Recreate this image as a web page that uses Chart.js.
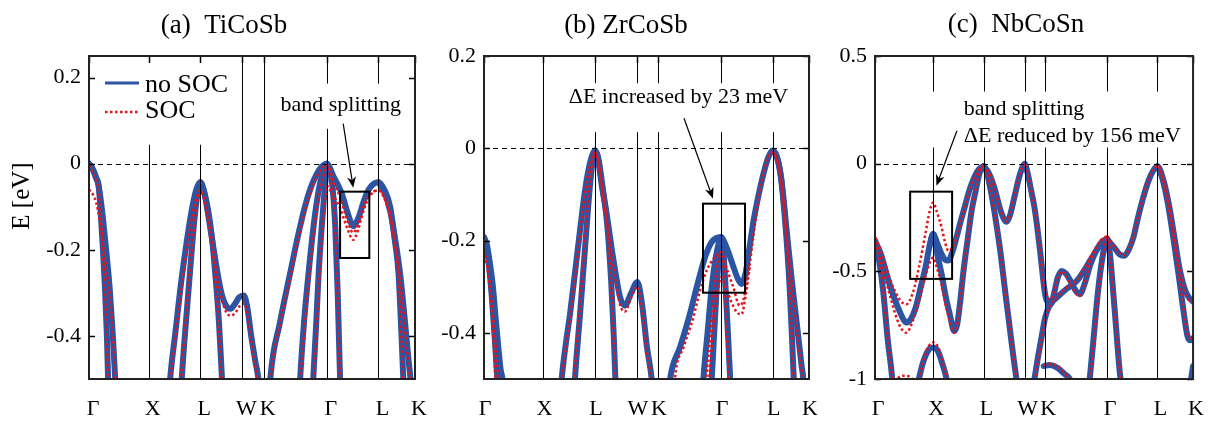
<!DOCTYPE html>
<html>
<head>
<meta charset="utf-8">
<title>Band structures with and without SOC</title>
<script src="https://cdn.jsdelivr.net/npm/chart.js@4.4.1/dist/chart.umd.min.js"></script>
<style>
  body { margin: 0; background: #fff; }
  .panel { position: absolute; top: 0; }
</style>
</head>
<body>
<canvas id="chartA" class="panel" width="440" height="421" style="left:0px"></canvas>
<canvas id="chartB" class="panel" width="440" height="421" style="left:400px"></canvas>
<canvas id="chartC" class="panel" width="418" height="421" style="left:800px"></canvas>
<script>
// high-symmetry path (k distance) and its labels
const kPoints = [0, 1, 1.866, 2.573, 2.927, 3.988, 4.854, 5.466];
const kLabels = ['Γ', 'X', 'L', 'W', 'K', 'Γ', 'L', 'K'];

// y tick values for each panel
const ticksA = [0.2, 0, -0.2, -0.4];
const ticksB = [0.2, 0, -0.2, -0.4];
const ticksC = [0.5, 0, -0.5, -1];

// (a) TiCoSb, bands as [k, E]
const tiNoSOC = [
    [[0, 0], [0.06, -0.012], [0.12, -0.033], [0.16, -0.05], [0.19, -0.1], [0.23, -0.19], [0.27, -0.295], [0.30, -0.4], [0.32, -0.5], [0.335, -0.57]],
    [[0, 0], [0.06, -0.012], [0.12, -0.033], [0.16, -0.05], [0.22, -0.11], [0.28, -0.19], [0.35, -0.295], [0.40, -0.4], [0.44, -0.5], [0.46, -0.56]],
    [[1.33, -0.56], [1.36, -0.5], [1.45, -0.39], [1.55, -0.27], [1.64, -0.18], [1.72, -0.11], [1.80, -0.06], [1.866, -0.043], [1.93, -0.065], [2.0, -0.11], [2.06, -0.17], [2.12, -0.26], [2.18, -0.37], [2.23, -0.5], [2.25, -0.56]],
    [[1.54, -0.54], [1.555, -0.5], [1.63, -0.36], [1.70, -0.24], [1.76, -0.14], [1.82, -0.07], [1.866, -0.043], [1.93, -0.065], [2.0, -0.12], [2.08, -0.19], [2.15, -0.25], [2.22, -0.30], [2.30, -0.33], [2.37, -0.337], [2.45, -0.325], [2.52, -0.31], [2.595, -0.306], [2.65, -0.33], [2.72, -0.4], [2.79, -0.46], [2.84, -0.5], [2.87, -0.55]],
    [[3.02, -0.55], [3.04, -0.5], [3.2, -0.37], [3.37, -0.256], [3.5, -0.17], [3.62, -0.10], [3.72, -0.055], [3.82, -0.024], [3.9, -0.007], [3.988, 0], [4.1, -0.03], [4.24, -0.07], [4.35, -0.12], [4.43, -0.145], [4.52, -0.125], [4.6, -0.09], [4.69, -0.06], [4.78, -0.046], [4.854, -0.043], [4.95, -0.06], [5.05, -0.10], [5.12, -0.17], [5.19, -0.256], [5.24, -0.4], [5.27, -0.5], [5.29, -0.56]],
    [[4.854, -0.043], [4.95, -0.065], [5.05, -0.11], [5.15, -0.19], [5.22, -0.26], [5.3, -0.37], [5.36, -0.46], [5.39, -0.5], [5.41, -0.55]],
    [[3.52, -0.56], [3.54, -0.5], [3.61, -0.36], [3.68, -0.256], [3.77, -0.14], [3.85, -0.063], [3.92, -0.02], [3.988, 0], [4.03, -0.012], [4.08, -0.05], [4.13, -0.15], [4.17, -0.3], [4.21, -0.5], [4.23, -0.56]],
    [[3.74, -0.56], [3.76, -0.5], [3.81, -0.37], [3.85, -0.256], [3.90, -0.15], [3.94, -0.08], [3.97, -0.03], [3.988, 0]]
];
const tiSOC = [
    [[0, -0.005], [0.06, -0.018], [0.12, -0.04], [0.16, -0.058], [0.19, -0.105], [0.23, -0.2], [0.27, -0.305], [0.30, -0.41], [0.32, -0.51], [0.335, -0.58]],
    [[0, -0.06], [0.06, -0.07], [0.12, -0.09], [0.18, -0.13], [0.24, -0.19], [0.30, -0.255], [0.36, -0.32], [0.41, -0.42], [0.45, -0.52], [0.47, -0.57]],
    [[1.34, -0.56], [1.37, -0.5], [1.46, -0.39], [1.56, -0.28], [1.65, -0.19], [1.73, -0.12], [1.81, -0.075], [1.866, -0.062], [1.93, -0.08], [2.0, -0.125], [2.06, -0.18], [2.12, -0.27], [2.18, -0.38], [2.22, -0.5], [2.24, -0.56]],
    [[1.53, -0.54], [1.545, -0.5], [1.62, -0.37], [1.69, -0.25], [1.76, -0.15], [1.82, -0.085], [1.866, -0.062], [1.93, -0.082], [2.0, -0.135], [2.08, -0.2], [2.15, -0.26], [2.22, -0.31], [2.30, -0.345], [2.38, -0.353], [2.46, -0.345], [2.53, -0.33], [2.6, -0.325], [2.66, -0.35], [2.73, -0.42], [2.8, -0.48], [2.84, -0.52], [2.86, -0.56]],
    [[3.03, -0.55], [3.05, -0.5], [3.21, -0.37], [3.38, -0.26], [3.51, -0.175], [3.63, -0.105], [3.73, -0.06], [3.83, -0.028], [3.91, -0.01], [3.988, -0.003], [4.1, -0.04], [4.24, -0.09], [4.35, -0.14], [4.43, -0.16], [4.52, -0.135], [4.6, -0.1], [4.69, -0.075], [4.78, -0.064], [4.854, -0.062], [4.95, -0.075], [5.05, -0.115], [5.12, -0.18], [5.19, -0.265], [5.24, -0.41], [5.27, -0.51], [5.29, -0.57]],
    [[3.988, -0.05], [4.08, -0.07], [4.2, -0.1], [4.33, -0.15], [4.43, -0.177], [4.52, -0.15], [4.6, -0.11], [4.69, -0.08], [4.78, -0.065], [4.854, -0.062], [4.95, -0.08], [5.05, -0.125], [5.15, -0.2], [5.22, -0.27], [5.3, -0.38], [5.36, -0.47], [5.39, -0.51], [5.41, -0.56]],
    [[3.53, -0.56], [3.55, -0.5], [3.62, -0.37], [3.69, -0.265], [3.78, -0.15], [3.86, -0.07], [3.93, -0.03], [3.988, -0.003], [4.03, -0.02], [4.08, -0.06], [4.13, -0.16], [4.17, -0.31], [4.21, -0.51], [4.23, -0.57]],
    [[3.75, -0.56], [3.77, -0.5], [3.82, -0.38], [3.86, -0.27], [3.91, -0.17], [3.95, -0.1], [3.988, -0.05]]
];

// (b) ZrCoSb
const zrNoSOC = [
    [[0, -0.193], [0.05, -0.21], [0.10, -0.25], [0.15, -0.3], [0.19, -0.36], [0.24, -0.43], [0.28, -0.48], [0.31, -0.5], [0.33, -0.54]],
    [[0, -0.193], [0.04, -0.21], [0.08, -0.25], [0.13, -0.32], [0.18, -0.41], [0.22, -0.49], [0.24, -0.54]],
    [[1.28, -0.55], [1.307, -0.5], [1.38, -0.42], [1.446, -0.36], [1.53, -0.27], [1.615, -0.178], [1.69, -0.1], [1.76, -0.045], [1.82, -0.015], [1.866, -0.005], [1.92, -0.02], [1.98, -0.07], [2.06, -0.15], [2.10, -0.21], [2.14, -0.29], [2.18, -0.4], [2.21, -0.5], [2.23, -0.56]],
    [[1.51, -0.55], [1.53, -0.5], [1.615, -0.36], [1.70, -0.215], [1.78, -0.084], [1.83, -0.025], [1.866, -0.005], [1.92, -0.025], [1.98, -0.08], [2.06, -0.14], [2.17, -0.236], [2.29, -0.323], [2.37, -0.341], [2.47, -0.315], [2.58, -0.29], [2.66, -0.34], [2.74, -0.43], [2.82, -0.5], [2.85, -0.55]],
    [[3.10, -0.54], [3.13, -0.5], [3.30, -0.43], [3.45, -0.365], [3.60, -0.29], [3.72, -0.235], [3.82, -0.205], [3.9, -0.195], [3.988, -0.193], [4.08, -0.215], [4.19, -0.255], [4.27, -0.283], [4.33, -0.294], [4.40, -0.27], [4.46, -0.22], [4.53, -0.16], [4.62, -0.1], [4.70, -0.055], [4.78, -0.02], [4.855, -0.005], [4.93, -0.02], [5.0, -0.07], [5.09, -0.2], [5.14, -0.3], [5.18, -0.41], [5.21, -0.5], [5.23, -0.56]],
    [[4.855, -0.005], [4.93, -0.02], [5.0, -0.065], [5.09, -0.178], [5.18, -0.29], [5.27, -0.39], [5.34, -0.47], [5.37, -0.5], [5.39, -0.55]],
    [[3.67, -0.55], [3.69, -0.5], [3.76, -0.4], [3.83, -0.3], [3.9, -0.235], [3.95, -0.205], [3.988, -0.193], [4.03, -0.23], [4.07, -0.32], [4.11, -0.42], [4.14, -0.5], [4.16, -0.55]],
    [[3.81, -0.55], [3.83, -0.5], [3.88, -0.38], [3.93, -0.27], [3.988, -0.193]]
];
const zrSOC = [
    [[0, -0.222], [0.05, -0.25], [0.10, -0.3], [0.14, -0.37], [0.17, -0.44], [0.19, -0.5], [0.2, -0.53]],
    [[0, -0.222], [0.06, -0.26], [0.12, -0.32], [0.18, -0.4], [0.23, -0.48], [0.25, -0.52]],
    [[1.29, -0.55], [1.315, -0.5], [1.39, -0.42], [1.455, -0.36], [1.54, -0.27], [1.62, -0.18], [1.695, -0.1], [1.765, -0.047], [1.825, -0.017], [1.866, -0.008], [1.92, -0.023], [1.98, -0.075], [2.06, -0.155], [2.10, -0.215], [2.14, -0.3], [2.18, -0.41], [2.205, -0.5], [2.22, -0.56]],
    [[1.50, -0.55], [1.52, -0.5], [1.605, -0.36], [1.69, -0.215], [1.775, -0.085], [1.83, -0.028], [1.866, -0.008], [1.92, -0.03], [1.98, -0.085], [2.06, -0.15], [2.17, -0.25], [2.29, -0.34], [2.37, -0.354], [2.47, -0.325], [2.58, -0.30], [2.66, -0.35], [2.74, -0.44], [2.81, -0.5], [2.84, -0.55]],
    [[3.19, -0.54], [3.21, -0.5], [3.36, -0.43], [3.52, -0.367], [3.63, -0.31], [3.745, -0.265], [3.88, -0.236], [3.988, -0.225], [4.08, -0.26], [4.19, -0.30], [4.30, -0.341], [4.36, -0.33], [4.42, -0.29], [4.47, -0.25], [4.55, -0.17], [4.63, -0.1], [4.71, -0.05], [4.78, -0.02], [4.855, -0.008], [4.93, -0.025], [5.0, -0.075], [5.09, -0.205], [5.14, -0.31], [5.18, -0.42], [5.205, -0.5], [5.22, -0.56]],
    [[4.855, -0.008], [4.93, -0.025], [5.0, -0.07], [5.09, -0.185], [5.18, -0.3], [5.27, -0.4], [5.34, -0.48], [5.36, -0.5], [5.38, -0.55]],
    [[3.72, -0.55], [3.74, -0.5], [3.8, -0.41], [3.87, -0.31], [3.93, -0.25], [3.988, -0.225], [4.03, -0.26], [4.07, -0.35], [4.10, -0.44], [4.12, -0.5], [4.14, -0.55]],
    [[3.77, -0.55], [3.79, -0.5], [3.85, -0.4], [3.92, -0.32], [3.988, -0.28], [4.06, -0.3], [4.15, -0.33], [4.25, -0.355], [4.33, -0.36], [4.4, -0.32], [4.47, -0.255]]
];

// (c) NbCoSn
const nbNoSOC = [
    [[0, -0.358], [0.1, -0.42], [0.25, -0.56], [0.42, -0.684], [0.54, -0.738], [0.62, -0.72], [0.70, -0.668], [0.78, -0.58], [0.867, -0.482], [0.94, -0.38], [1.0, -0.327], [1.07, -0.37], [1.145, -0.42], [1.2, -0.445], [1.26, -0.45], [1.33, -0.41], [1.40, -0.343], [1.47, -0.27], [1.54, -0.203], [1.62, -0.125], [1.705, -0.064], [1.79, -0.025], [1.866, -0.012]],
    [[1.866, -0.012], [1.95, -0.04], [2.05, -0.11], [2.15, -0.21], [2.22, -0.26], [2.26, -0.27], [2.32, -0.24], [2.40, -0.15], [2.48, -0.06], [2.54, -0.012], [2.573, 0], [2.62, -0.04], [2.68, -0.12], [2.74, -0.203], [2.80, -0.32], [2.85, -0.436], [2.90, -0.56], [2.93, -0.615], [2.97, -0.645], [3.02, -0.653], [3.08, -0.6], [3.14, -0.53], [3.21, -0.498], [3.28, -0.51], [3.37, -0.55], [3.45, -0.59], [3.52, -0.606], [3.60, -0.56], [3.70, -0.47], [3.80, -0.405], [3.91, -0.36], [3.988, -0.35]],
    [[3.988, -0.35], [4.05, -0.37], [4.11, -0.389], [4.2, -0.42], [4.28, -0.428], [4.36, -0.40], [4.44, -0.343], [4.52, -0.25], [4.61, -0.157], [4.70, -0.08], [4.78, -0.033], [4.854, -0.012], [4.96, -0.08], [5.06, -0.203], [5.15, -0.35], [5.23, -0.482], [5.32, -0.58], [5.39, -0.62], [5.466, -0.64]],
    [[0.94, -0.38], [1.0, -0.327], [1.07, -0.42], [1.145, -0.513], [1.21, -0.61], [1.286, -0.70], [1.36, -0.777], [1.41, -0.75], [1.46, -0.65], [1.52, -0.5], [1.59, -0.358], [1.66, -0.22], [1.73, -0.126], [1.80, -0.04], [1.866, -0.012], [1.93, -0.05], [2.0, -0.14], [2.08, -0.27], [2.16, -0.42], [2.24, -0.6], [2.31, -0.75], [2.38, -0.9], [2.43, -1.0], [2.45, -1.05]],
    [[0, -0.358], [0.07, -0.45], [0.14, -0.59], [0.22, -0.82], [0.297, -1.0], [0.31, -1.05]],
    [[0.72, -1.05], [0.755, -1.0], [0.83, -0.92], [0.92, -0.865], [1.0, -0.854], [1.08, -0.87], [1.17, -0.94], [1.23, -1.0], [1.26, -1.05]],
    [[2.72, -1.03], [2.74, -1.0], [2.80, -0.9], [2.86, -0.81], [2.92, -0.72], [2.98, -0.67], [3.05, -0.64], [3.13, -0.62], [3.30, -0.58], [3.47, -0.544], [3.63, -0.48], [3.80, -0.405], [3.90, -0.37], [3.988, -0.35]],
    [[3.67, -1.05], [3.69, -1.0], [3.76, -0.8], [3.83, -0.6], [3.9, -0.45], [3.95, -0.38], [3.988, -0.35], [4.03, -0.4], [4.08, -0.55], [4.14, -0.75], [4.2, -0.95], [4.22, -1.0], [4.24, -1.05]],
    [[2.9, -0.94], [3.0, -0.935], [3.13, -0.947], [3.25, -0.975], [3.35, -1.0], [3.4, -1.03]],
    [[4.854, -0.012], [4.93, -0.06], [5.03, -0.18], [5.13, -0.35], [5.22, -0.52], [5.30, -0.68], [5.37, -0.80], [5.42, -0.82], [5.466, -0.81]],
    [[5.41, -1.04], [5.466, -0.94]]
];
const nbSOC = [
    [[0, -0.343], [0.1, -0.4], [0.25, -0.53], [0.42, -0.63], [0.54, -0.653], [0.65, -0.6], [0.755, -0.482], [0.87, -0.32], [0.94, -0.22], [1.0, -0.18], [1.07, -0.23], [1.145, -0.296], [1.2, -0.36], [1.26, -0.405], [1.33, -0.39], [1.40, -0.345], [1.47, -0.275], [1.54, -0.205], [1.62, -0.125], [1.705, -0.062], [1.79, -0.022], [1.866, -0.01]],
    [[0, -0.343], [0.1, -0.45], [0.25, -0.606], [0.42, -0.75], [0.54, -0.785], [0.65, -0.73], [0.755, -0.637], [0.87, -0.52], [0.94, -0.46], [1.0, -0.436], [1.07, -0.49], [1.145, -0.56], [1.21, -0.65], [1.286, -0.73], [1.36, -0.785], [1.41, -0.755], [1.46, -0.655], [1.52, -0.5], [1.59, -0.355], [1.66, -0.215], [1.73, -0.12], [1.80, -0.035], [1.866, -0.01]],
    [[1.866, -0.01], [1.95, -0.038], [2.05, -0.108], [2.15, -0.208], [2.22, -0.258], [2.26, -0.268], [2.32, -0.238], [2.40, -0.148], [2.48, -0.058], [2.54, -0.01], [2.573, 0.002], [2.62, -0.038], [2.68, -0.118], [2.74, -0.2], [2.80, -0.318], [2.85, -0.434], [2.90, -0.56], [2.93, -0.6], [2.97, -0.625], [3.02, -0.63], [3.08, -0.59], [3.14, -0.53], [3.21, -0.5], [3.28, -0.52], [3.37, -0.565], [3.45, -0.6], [3.52, -0.615], [3.60, -0.56], [3.70, -0.46], [3.80, -0.39], [3.91, -0.348], [3.988, -0.337]],
    [[3.988, -0.337], [4.05, -0.36], [4.11, -0.385], [4.2, -0.415], [4.28, -0.425], [4.36, -0.398], [4.44, -0.34], [4.52, -0.248], [4.61, -0.155], [4.70, -0.078], [4.78, -0.03], [4.854, -0.01], [4.96, -0.075], [5.06, -0.195], [5.15, -0.345], [5.23, -0.48], [5.32, -0.585], [5.39, -0.63], [5.466, -0.65]],
    [[1.866, -0.01], [1.93, -0.048], [2.0, -0.138], [2.08, -0.268], [2.16, -0.418], [2.24, -0.598], [2.31, -0.748], [2.38, -0.9], [2.43, -1.0], [2.45, -1.05]],
    [[0, -0.343], [0.07, -0.44], [0.14, -0.58], [0.22, -0.81], [0.3, -1.0], [0.315, -1.05]],
    [[0.73, -1.05], [0.765, -1.0], [0.84, -0.91], [0.92, -0.85], [1.0, -0.83], [1.08, -0.85], [1.17, -0.93], [1.235, -1.0], [1.265, -1.05]],
    [[0.33, -1.04], [0.4, -0.995], [0.5, -0.985], [0.6, -0.99], [0.68, -1.02], [0.72, -1.05]],
    [[2.73, -1.03], [2.75, -1.0], [2.81, -0.9], [2.87, -0.81], [2.93, -0.72], [2.99, -0.67], [3.06, -0.64], [3.14, -0.615], [3.30, -0.575], [3.47, -0.54], [3.63, -0.47], [3.80, -0.39], [3.90, -0.355], [3.988, -0.337]],
    [[3.68, -1.05], [3.70, -1.0], [3.77, -0.8], [3.84, -0.6], [3.91, -0.44], [3.96, -0.37], [3.988, -0.337], [4.03, -0.39], [4.08, -0.54], [4.14, -0.74], [4.2, -0.94], [4.225, -1.0], [4.245, -1.05]],
    [[2.9, -0.935], [3.0, -0.93], [3.13, -0.94], [3.25, -0.97], [3.35, -1.0], [3.4, -1.03]],
    [[4.854, -0.01], [4.93, -0.058], [5.03, -0.178], [5.13, -0.345], [5.22, -0.51], [5.30, -0.67], [5.37, -0.79], [5.42, -0.81], [5.466, -0.8]]
];

const blue = '#2b54a3';
const red = '#e3141c';
const serif = '"Liberation Serif", "Times New Roman", serif';

// panel layout and annotations (positions in k / eV)
const panels = [
    {
        id: 'chartA', title: '(a)  TiCoSb', titleX: 224, titleY: 33,
        yMin: -0.5, yMax: 0.25, yTicks: ticksA, noSOC: tiNoSOC, soc: tiSOC,
        axisWidth: 89, padLeft: 0, padRight: 25, labelOffset: 4,
        yLabel: true, legend: true,
        boxes: [[0, 2.47, 0.044, 0.25], [3.14, 5.32, 0.081, 0.186]],
        texts: [{ k: 4.22, e: 0.123, text: 'band splitting', align: 'center' }],
        rect: [4.21, 4.70, -0.065, -0.219],
        arrow: [4.262, 0.093, 4.43, -0.056]
    },
    {
        id: 'chartB', title: '(b) ZrCoSb', titleX: 226, titleY: 33,
        yMin: -0.5, yMax: 0.2, yTicks: ticksB, noSOC: zrNoSOC, soc: zrSOC,
        axisWidth: 64, padLeft: 20, padRight: 31, labelOffset: 1,
        boxes: [[1.278, 5.264, 0.035, 0.141]],
        texts: [{ k: 3.271, e: 0.098, text: 'ΔE increased by 23 meV', align: 'center' }],
        rect: [3.683, 4.39, -0.12, -0.313],
        arrow: [3.364, 0.065, 3.851, -0.109]
    },
    {
        id: 'chartC', title: '(c)  NbCoSn', titleX: 216, titleY: 32,
        yMin: -1, yMax: 0.5, yTicks: ticksC, noSOC: nbNoSOC, soc: nbSOC,
        axisWidth: 55, padLeft: 20, padRight: 17, labelOffset: 3,
        boxes: [[0.922, 5.315, 0.075, 0.335]],
        texts: [
            { k: 1.526, e: 0.228, text: 'band splitting', align: 'left' },
            { k: 1.526, e: 0.102, text: 'ΔE reduced by 156 meV', align: 'left' }
        ],
        rect: [0.604, 1.325, -0.13, -0.535],
        arrow: [1.408, 0.153, 1.056, -0.102]
    }
];

function strokeLine(ctx, x1, y1, x2, y2) {
    ctx.beginPath();
    ctx.moveTo(x1, y1);
    ctx.lineTo(x2, y2);
    ctx.stroke();
}

function drawArrow(ctx, x1, y1, x2, y2) {
    const ang = Math.atan2(y2 - y1, x2 - x1);
    const len = 11, w = 4.5;
    const c = Math.cos(ang), s = Math.sin(ang);
    strokeLine(ctx, x1, y1, x2 - c * 6, y2 - s * 6);
    ctx.beginPath();
    ctx.moveTo(x2, y2);
    ctx.lineTo(x2 - len * c + w * s, y2 - len * s - w * c);
    ctx.lineTo(x2 - len * 0.7 * c, y2 - len * 0.7 * s);
    ctx.lineTo(x2 - len * c - w * s, y2 - len * s + w * c);
    ctx.closePath();
    ctx.fill();
}

// symmetry lines, Fermi level, annotations, frame and titles
const bandDecor = {
    id: 'bandDecor',
    afterDatasetsDraw(chart, args, o) {
        const { ctx, chartArea: a, scales: { x, y } } = chart;
        const px = k => x.getPixelForValue(k);
        const py = e => y.getPixelForValue(e);
        ctx.save();

        ctx.strokeStyle = '#000';
        ctx.lineWidth = 1;
        kPoints.forEach(k => {
            const xx = Math.round(px(k)) + 0.5;
            strokeLine(ctx, xx, a.top, xx, a.bottom);
        });
        const y0 = Math.round(py(0)) + 0.5;
        ctx.setLineDash([5, 4]);
        strokeLine(ctx, a.left, y0, a.right, y0);
        ctx.setLineDash([]);

        // white backgrounds behind text
        ctx.fillStyle = '#fff';
        o.boxes.forEach(([k0, k1, e0, e1]) => {
            ctx.fillRect(px(k0), py(e1), px(k1) - px(k0), py(e0) - py(e1));
        });

        ctx.fillStyle = '#000';
        ctx.font = '22px ' + serif;
        ctx.textBaseline = 'alphabetic';
        o.texts.forEach(t => {
            ctx.textAlign = t.align;
            ctx.fillText(t.text, px(t.k), py(t.e));
        });

        ctx.lineWidth = 2;
        const [rk0, rk1, re0, re1] = o.rect;
        ctx.strokeRect(px(rk0), py(re0), px(rk1) - px(rk0), py(re1) - py(re0));

        ctx.lineWidth = 1.2;
        const [ak0, ae0, ak1, ae1] = o.arrow;
        drawArrow(ctx, px(ak0), py(ae0), px(ak1), py(ae1));

        if (o.legend) {
            const lx = a.left + 16;
            ctx.strokeStyle = blue;
            ctx.lineWidth = 3;
            strokeLine(ctx, lx, a.top + 27, lx + 34, a.top + 27);
            ctx.strokeStyle = red;
            ctx.lineWidth = 2.5;
            ctx.setLineDash([2.5, 2.5]);
            strokeLine(ctx, lx, a.top + 56, lx + 34, a.top + 56);
            ctx.setLineDash([]);
            ctx.fillStyle = '#000';
            ctx.font = '26px ' + serif;
            ctx.textAlign = 'left';
            ctx.fillText('no SOC', lx + 40, a.top + 36);
            ctx.fillText('SOC', lx + 40, a.top + 62);
        }

        // inward ticks and box
        ctx.strokeStyle = '#000';
        ctx.lineWidth = 1.5;
        o.yTicks.forEach(v => {
            const yy = Math.round(py(v)) + 0.5;
            strokeLine(ctx, a.left, yy, a.left + 6, yy);
            strokeLine(ctx, a.right - 6, yy, a.right, yy);
        });
        kPoints.forEach(k => {
            const xx = Math.round(px(k)) + 0.5;
            strokeLine(ctx, xx, a.top, xx, a.top + 7);
        });
        ctx.lineWidth = 2;
        ctx.strokeStyle = '#222';
        ctx.strokeRect(a.left, a.top, a.right - a.left, a.bottom - a.top);
        ctx.restore();
    },
    afterDraw(chart, args, o) {
        const { ctx } = chart;
        ctx.save();
        ctx.fillStyle = '#000';
        ctx.font = '27px ' + serif;
        ctx.textAlign = 'center';
        ctx.textBaseline = 'alphabetic';
        ctx.fillText(o.title, o.titleX, o.titleY);
        if (o.yLabel) {
            ctx.translate(22, 196);
            ctx.rotate(-Math.PI / 2);
            ctx.font = '25px ' + serif;
            ctx.textBaseline = 'middle';
            ctx.fillText('E [eV]', 0, 0);
        }
        ctx.restore();
    }
};

function makeBandChart(p) {
    const common = {
        showLine: true, pointRadius: 0, fill: false, clip: 0,
        cubicInterpolationMode: 'monotone'
    };
    const datasets = [
        ...p.soc.map(band => ({
            ...common, data: band, borderColor: red, borderWidth: 2.5,
            borderDash: [2.5, 2.5], borderCapStyle: 'butt', order: 0
        })),
        ...p.noSOC.map(band => ({
            ...common, data: band, borderColor: blue, borderWidth: 6,
            borderCapStyle: 'round', borderJoinStyle: 'round', order: 1
        }))
    ];

    return new Chart(document.getElementById(p.id), {
        type: 'scatter',
        data: { datasets },
        options: {
            responsive: false,
            animation: false,
            devicePixelRatio: 1,
            layout: { padding: { left: p.padLeft, right: p.padRight, top: 56, bottom: 0 } },
            plugins: {
                legend: { display: false },
                tooltip: { enabled: false },
                bandDecor: p
            },
            scales: {
                x: {
                    type: 'linear', min: 0, max: kPoints[kPoints.length - 1],
                    grid: { display: false, drawTicks: false }, border: { display: false },
                    afterBuildTicks: s => { s.ticks = kPoints.map(v => ({ value: v })); },
                    afterFit: s => { s.height = 42; },
                    ticks: {
                        autoSkip: false, maxRotation: 0, padding: 17,
                        labelOffset: p.labelOffset, color: '#000',
                        font: { family: serif, size: 22 },
                        callback: (v, i) => kLabels[i]
                    }
                },
                y: {
                    type: 'linear', min: p.yMin, max: p.yMax,
                    grid: { display: false, drawTicks: false }, border: { display: false },
                    afterBuildTicks: s => { s.ticks = p.yTicks.map(v => ({ value: v })); },
                    afterFit: s => { s.width = p.axisWidth; },
                    ticks: {
                        padding: 8, color: '#000',
                        font: { family: serif, size: 22 },
                        callback: v => String(v)
                    }
                }
            }
        },
        plugins: [bandDecor]
    });
}

panels.forEach(makeBandChart);
</script>
</body>
</html>
